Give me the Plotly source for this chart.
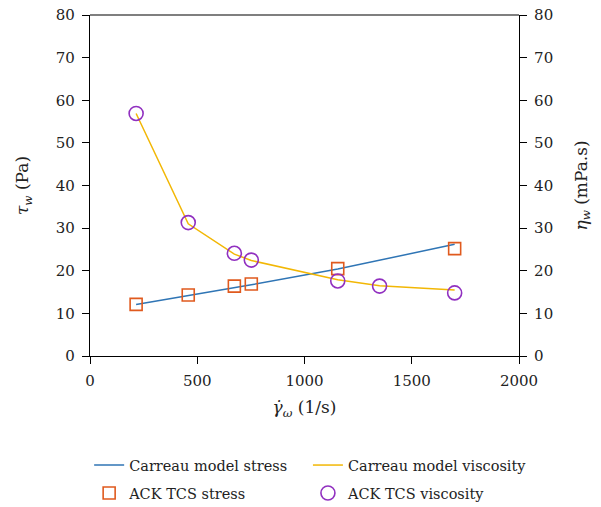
import plotly.graph_objects as go

# Data
stress_x = [215, 458, 673, 752, 1155, 1700]
stress_model = [12.1, 14.2, 16.0, 16.7, 20.4, 26.2]
stress_exp = [12.1, 14.3, 16.4, 16.9, 20.5, 25.2]

visc_x = [215, 458, 673, 752, 1155, 1350, 1700]
visc_model = [56.9, 31.0, 23.9, 22.4, 17.9, 16.5, 15.5]
visc_exp = [56.9, 31.3, 24.1, 22.5, 17.6, 16.4, 14.8]

x_ticks = [0, 500, 1000, 1500, 2000]
y_ticks = [0, 10, 20, 30, 40, 50, 60, 70, 80]

FONT = "DejaVu Serif"
TXT = "#222"

fig = go.Figure()
fig.add_trace(go.Scatter(x=stress_x, y=stress_model, mode="lines",
                         name="Carreau model stress", legend="legend",
                         line=dict(color="#2F75B5", width=1.5)))
fig.add_trace(go.Scatter(x=visc_x, y=visc_model, mode="lines",
                         name="Carreau model viscosity", yaxis="y2", legend="legend2",
                         line=dict(color="#F2B705", width=1.5)))
fig.add_trace(go.Scatter(x=stress_x, y=stress_exp, mode="markers",
                         name="ACK TCS stress", legend="legend3",
                         marker=dict(symbol="square-open", size=12,
                                     color="#E05A1E", line=dict(width=1.6))))
fig.add_trace(go.Scatter(x=visc_x, y=visc_exp, mode="markers",
                         name="ACK TCS viscosity", yaxis="y2", legend="legend4",
                         marker=dict(symbol="circle-open", size=14,
                                     color="#9130C0", line=dict(width=1.6))))

axis_common = dict(showgrid=False, zeroline=False, showline=True,
                   linecolor="black", linewidth=1.2, ticks="outside",
                   ticklen=7, tickcolor="black", tickwidth=1,
                   ticklabelstandoff=4,
                   tickfont=dict(family=FONT, size=15, color=TXT))

legend_common = dict(orientation="h", xanchor="left", yanchor="middle",
                     itemwidth=30, bgcolor="rgba(0,0,0,0)",
                     font=dict(family=FONT, size=14.5, color=TXT))

fig.update_layout(
    width=601, height=507,
    margin=dict(l=90, r=82, t=15, b=151, autoexpand=False),
    plot_bgcolor="white", paper_bgcolor="white",
    font=dict(family=FONT, size=15, color=TXT),
    xaxis=dict(range=[0, 2000], tickvals=x_ticks,
               title=dict(text="<i>γ̇</i><sub><i>ω</i></sub> (1/s)", standoff=12,
                          font=dict(family=FONT, size=17, color=TXT)),
               **axis_common),
    yaxis=dict(range=[0, 80], tickvals=y_ticks,
               title=dict(text="<i>τ</i><sub><i>w</i></sub> (Pa)", standoff=22,
                          font=dict(family=FONT, size=17, color=TXT)),
               **axis_common),
    yaxis2=dict(range=[0, 80], tickvals=y_ticks, overlaying="y", side="right",
                title=dict(text="<i>η</i><sub><i>w</i></sub> (mPa.s)", standoff=22,
                           font=dict(family=FONT, size=17, color=TXT)),
                **axis_common),
    legend=dict(x=-0.002, y=-0.320, **legend_common),
    legend2=dict(x=0.508, y=-0.320, **legend_common),
    legend3=dict(x=-0.002, y=-0.402, **legend_common),
    legend4=dict(x=0.508, y=-0.402, **legend_common),
    showlegend=True,
)

# top border line
fig.add_shape(type="line", xref="paper", yref="paper", x0=0, x1=1, y0=1, y1=1,
              line=dict(color="black", width=1.2))

fig.write_html("out.html")
